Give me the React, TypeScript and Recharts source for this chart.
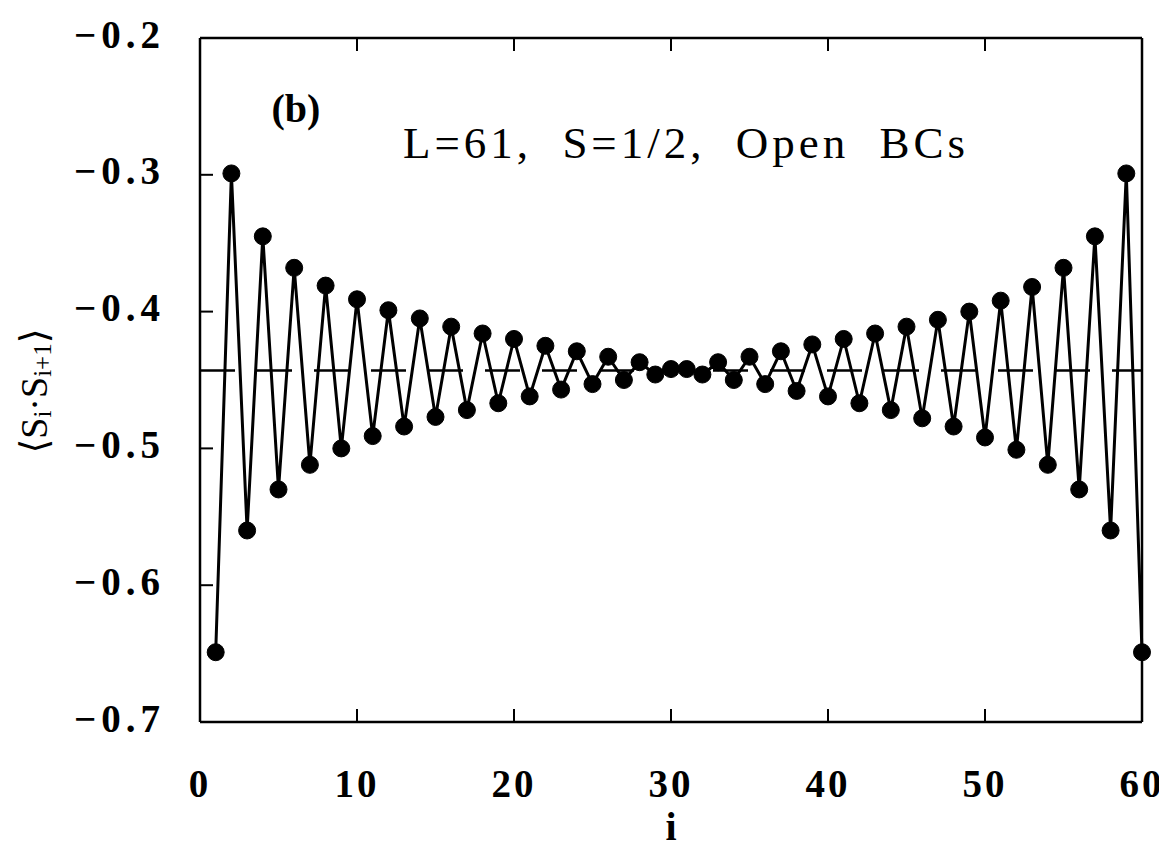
import { Line, LineChart, ReferenceLine, XAxis, YAxis } from 'recharts';

// bond index i (bond between site i and i+1), L = 61 sites
const bonds = Array.from({ length: 60 }, (_, k) => k + 1);

// <S_i . S_i+1>
const bondEnergy = [
  -0.649, -0.299, -0.56, -0.345, -0.53, -0.368, -0.512, -0.381, -0.5, -0.391,
  -0.491, -0.399, -0.484, -0.405, -0.477, -0.411, -0.472, -0.416, -0.467, -0.42,
  -0.462, -0.425, -0.457, -0.429, -0.453, -0.433, -0.45, -0.437, -0.446, -0.442,
  -0.442, -0.446, -0.437, -0.45, -0.433, -0.453, -0.429, -0.458, -0.424, -0.462,
  -0.42, -0.467, -0.416, -0.472, -0.411, -0.478, -0.406, -0.484, -0.4, -0.492,
  -0.392, -0.501, -0.382, -0.512, -0.368, -0.53, -0.345, -0.56, -0.299, -0.649,
];

// bulk value 1/4 - ln 2
const bulkValue = -0.4431;

const xTicks = [0, 10, 20, 30, 40, 50, 60];
const yTicks = [-0.7, -0.6, -0.5, -0.4, -0.3, -0.2];

const data = bonds.map((i, k) => ({ i, e: bondEnergy[k] }));

const W = 1159;
const H = 849;

const tickFont = {
  fontFamily: '"Liberation Serif", "DejaVu Serif", serif',
  fontWeight: 700,
  fontSize: 39,
  fill: '#000',
};

const frame = { stroke: '#000', strokeWidth: 2.5 };
const tickStroke = { stroke: '#000', strokeWidth: 2 };

const XTick = ({ x, y, payload }: any) => (
  <text x={x} y={y} textAnchor="middle" dominantBaseline="central" letterSpacing={3} style={tickFont}>
    {payload.value}
  </text>
);

const YTick = ({ x, y, payload }: any) => (
  <text x={x} y={y - 4} textAnchor="end" dominantBaseline="central" letterSpacing={5} style={tickFont}>
    {payload.value.toFixed(1).replace('-', '\u2212')}
  </text>
);

const NoTick = () => <g />;

export default function App() {
  return (
    <div style={{ position: 'relative', width: W, height: H }}>
      <LineChart width={W} height={H} data={data} margin={{ top: 29, right: 24, left: 0, bottom: 0 }}>
        <XAxis
          dataKey="i"
          type="number"
          domain={[0, 60]}
          ticks={xTicks}
          height={135}
          tickSize={-13}
          tickMargin={74}
          tick={<XTick />}
          axisLine={frame}
          tickLine={tickStroke}
        />
        <XAxis
          xAxisId="top"
          orientation="top"
          dataKey="i"
          type="number"
          domain={[0, 60]}
          ticks={xTicks}
          height={1}
          tickSize={-13}
          tick={<NoTick />}
          axisLine={frame}
          tickLine={tickStroke}
        />
        <YAxis
          type="number"
          domain={[-0.7, -0.2]}
          ticks={yTicks}
          width={192}
          tickSize={-13}
          tickMargin={48}
          tick={<YTick />}
          axisLine={frame}
          tickLine={tickStroke}
        />
        <YAxis
          yAxisId="right"
          orientation="right"
          type="number"
          domain={[-0.7, -0.2]}
          ticks={yTicks}
          width={1}
          tickSize={-13}
          tick={<NoTick />}
          axisLine={frame}
          tickLine={tickStroke}
        />
        <ReferenceLine y={bulkValue} stroke="#000" strokeWidth={2.5} strokeDasharray="35 22" />
        <Line
          dataKey="e"
          stroke="#000"
          strokeWidth={3}
          dot={{ r: 8.5, fill: '#000', stroke: '#000', strokeWidth: 1 }}
          isAnimationActive={false}
        />
      </LineChart>
      <svg width={W} height={H} style={{ position: 'absolute', left: 0, top: 0, pointerEvents: 'none' }}>
        <text
          x={288}
          y={100}
          textAnchor="middle"
          dominantBaseline="central"
          style={{ ...tickFont, fontSize: 40 }}
        >
          (b)
        </text>
        <text
          x={395}
          y={150}
          textLength={562}
          lengthAdjust="spacing"
          style={{ ...tickFont, fontWeight: 400, fontSize: 45, whiteSpace: 'pre' }}
        >
          {'L=61,  S=1/2,  Open  BCs'}
        </text>
        <text x={663} y={818} textAnchor="middle" dominantBaseline="central" style={{ ...tickFont, fontSize: 40 }}>
          i
        </text>
        <text
          transform="translate(26 383) rotate(-90)"
          textAnchor="middle"
          dominantBaseline="central"
          style={{ fontFamily: '"Liberation Serif", "DejaVu Serif", serif', fontSize: 38, fill: '#000' }}
        >
          {'\u27E8S'}
          <tspan fontSize={25} dy={8}>i</tspan>
          <tspan dy={-8}>{'\u00B7S'}</tspan>
          <tspan fontSize={25} dy={8}>i+1</tspan>
          <tspan dy={-8}>{'\u27E9'}</tspan>
        </text>
      </svg>
    </div>
  );
}
